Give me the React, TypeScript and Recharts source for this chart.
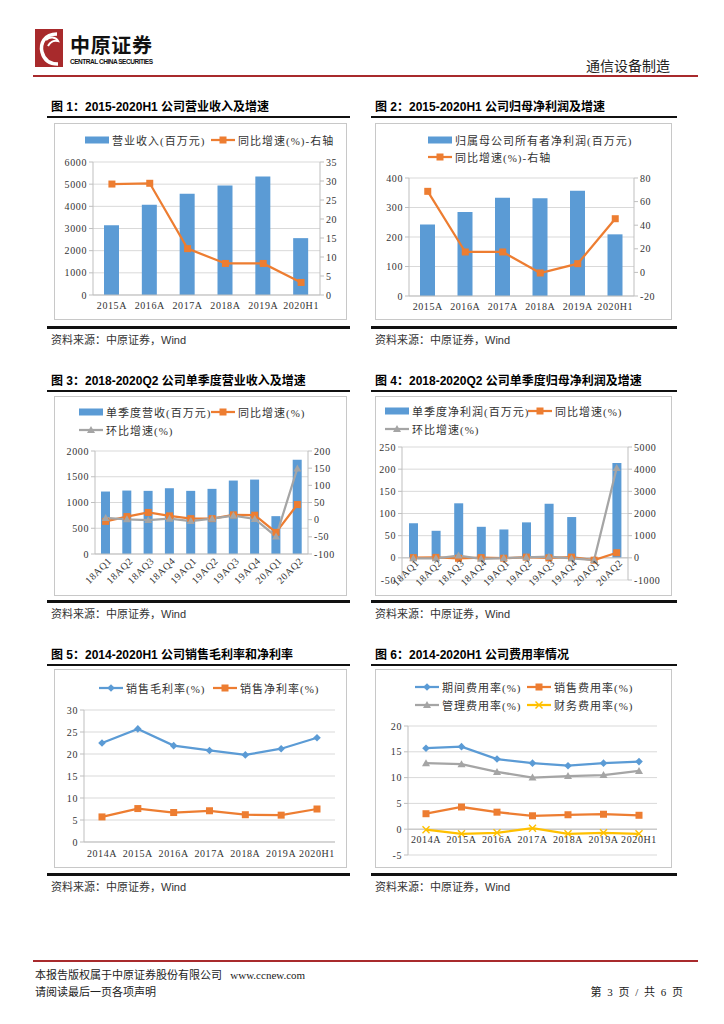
import React from "react";
import {
  ComposedChart,
  Bar,
  Line,
  XAxis,
  YAxis,
  CartesianGrid,
  ReferenceLine,
} from "recharts";

// 颜色 / 字体
const BLUE = "#5B9BD5";
const ORANGE = "#ED7D31";
const GRAY = "#A5A5A5";
const YELLOW = "#FFC000";
const GRID = "#D9D9D9";
const AXIS = "#BFBFBF";
const SERIF = '"Liberation Serif","Noto Sans CJK SC",serif';
const SANS = '"Liberation Sans","Noto Sans CJK SC",sans-serif';

// 图1 / 图2：年度
const years = ["2015A", "2016A", "2017A", "2018A", "2019A", "2020H1"];
const revenue = [3150, 4070, 4570, 4945, 5350, 2565];
const revenueYoy = [29.2, 29.4, 12.2, 8.3, 8.3, 3.3];
const netProfit = [242, 285, 333, 331, 357, 209];
const netProfitYoy = [68.7, 17.3, 17.3, -0.5, 7.4, 45.5];

// 图3 / 图4：单季度
const quarters = ["18AQ1", "18AQ2", "18AQ3", "18AQ4", "19AQ1", "19AQ2", "19AQ3", "19AQ4", "20AQ1", "20AQ2"];
const qRevenue = [1213, 1232, 1226, 1277, 1226, 1265, 1426, 1445, 735, 1832];
const qRevenueYoy = [-5, 9, 21, 11, 3, 3, 14, 13, -37, 44];
const qRevenueQoq = [5, 1, -1, 3, -4, 3, 12, 2, -49, 149];
const qProfit = [78, 61, 123, 70, 64, 80, 122, 92, -3, 214];
const qProfitYoy = [10, 20, -20, 10, -18, 31, -1, 31, -105, 230];
const qProfitQoq = [-20, -22, 100, -43, -9, 25, 53, -25, -103, 4050];

// 图5 / 图6：利润率、费用率
const years2 = ["2014A", "2015A", "2016A", "2017A", "2018A", "2019A", "2020H1"];
const grossMargin = [22.5, 25.7, 21.9, 20.8, 19.8, 21.2, 23.7];
const netMargin = [5.7, 7.6, 6.7, 7.1, 6.2, 6.1, 7.5];
const periodExp = [15.7, 16.0, 13.6, 12.8, 12.3, 12.8, 13.1];
const salesExp = [3.0, 4.3, 3.3, 2.6, 2.8, 2.9, 2.7];
const adminExp = [12.8, 12.6, 11.1, 10.0, 10.3, 10.5, 11.3];
const financeExp = [-0.1, -0.9, -0.7, 0.2, -0.9, -0.7, -0.9];

// 坐标轴刻度
const ticks1L = [0, 1000, 2000, 3000, 4000, 5000, 6000];
const ticks1R = [0, 5, 10, 15, 20, 25, 30, 35];
const ticks2L = [0, 100, 200, 300, 400];
const ticks2R = [-20, 0, 20, 40, 60, 80];
const ticks3L = [0, 500, 1000, 1500, 2000];
const ticks3R = [-100, -50, 0, 50, 100, 150, 200];
const ticks4L = [-50, 0, 50, 100, 150, 200, 250];
const ticks4R = [-1000, 0, 1000, 2000, 3000, 4000, 5000];
const ticks5 = [0, 5, 10, 15, 20, 25, 30];
const ticks6 = [-5, 0, 5, 10, 15, 20];

const tickStyle = { fontSize: 10, fill: "#333", fontFamily: SERIF, letterSpacing: 0.6 };

type Kind = "bar" | "square" | "diamond" | "triangle" | "x";

function Marker({ kind, cx, cy, color }: { kind: Kind; cx: number; cy: number; color: string }) {
  if (kind === "square") return <rect x={cx - 3.5} y={cy - 3.5} width={7} height={7} fill={color} />;
  if (kind === "diamond")
    return <polygon points={`${cx},${cy - 3.8} ${cx + 3.8},${cy} ${cx},${cy + 3.8} ${cx - 3.8},${cy}`} fill={color} />;
  if (kind === "triangle")
    return <polygon points={`${cx},${cy - 4} ${cx + 4},${cy + 3} ${cx - 4},${cy + 3}`} fill={color} />;
  if (kind === "x")
    return (
      <g stroke={color} strokeWidth={1.4}>
        <line x1={cx - 3.5} y1={cy - 3.5} x2={cx + 3.5} y2={cy + 3.5} />
        <line x1={cx - 3.5} y1={cy + 3.5} x2={cx + 3.5} y2={cy - 3.5} />
      </g>
    );
  return null;
}

const dotOf = (kind: Kind, color: string) => (p: any) =>
  p.cx == null || p.cy == null ? <g key={`e${p.index}`} /> : (
    <g key={`d${p.index}`}>
      <Marker kind={kind} cx={p.cx} cy={p.cy} color={color} />
    </g>
  );

// 横轴标签：shift 用于把标签移到零线下方
const flatTick = (shift: number) => (p: any) => (
  <text x={p.x} y={p.y - shift} dy="0.71em" textAnchor="middle" {...tickStyle}>
    {p.payload.value}
  </text>
);
const rotTick = (shift: number) => (p: any) => (
  <g transform={`translate(${p.x + 4},${p.y - shift})`}>
    <text transform="rotate(-45)" textAnchor="end" dy="0.35em" {...tickStyle}>
      {p.payload.value}
    </text>
  </g>
);

function LegendItem({ x, y, kind, color, label }: { x: number; y: number; kind: Kind; color: string; label: string }) {
  return (
    <div
      style={{
        position: "absolute",
        left: x,
        top: y - 8,
        height: 16,
        display: "flex",
        alignItems: "center",
        whiteSpace: "nowrap",
        fontFamily: SERIF,
        fontSize: 11,
        letterSpacing: 1,
        color: "#333",
      }}
    >
      <svg width={24} height={16}>
        {kind === "bar" ? (
          <rect x={0} y={4.5} width={24} height={7} fill={color} />
        ) : (
          <>
            <line x1={0} y1={8} x2={24} y2={8} stroke={color} strokeWidth={2.25} />
            <Marker kind={kind} cx={12} cy={8} color={color} />
          </>
        )}
      </svg>
      <span style={{ marginLeft: 3 }}>{label}</span>
    </div>
  );
}

function Panel({
  title,
  lineX,
  lineW,
  titleY,
  box,
  bottomY,
  children,
}: {
  title: string;
  lineX: number;
  lineW: number;
  titleY: number;
  box: [number, number, number, number];
  bottomY: number;
  children?: React.ReactNode;
}) {
  return (
    <>
      <div
        style={{
          position: "absolute",
          left: lineX + 4,
          top: titleY - 9,
          fontFamily: SANS,
          fontWeight: 700,
          fontSize: 12,
          color: "#000",
          whiteSpace: "nowrap",
        }}
      >
        {title}
      </div>
      <div style={{ position: "absolute", left: lineX, top: titleY + 10, width: lineW, height: 2, background: "#111" }} />
      <div
        style={{
          position: "absolute",
          left: box[0],
          top: box[1],
          width: box[2] - 2,
          height: box[3] - 2,
          border: "1px solid #C8C8C8",
        }}
      />
      <div style={{ position: "absolute", left: box[0], top: box[1] }}>{children}</div>
      <div style={{ position: "absolute", left: lineX, top: bottomY, width: lineW, height: 2.5, background: "#111" }} />
      <div
        style={{
          position: "absolute",
          left: lineX + 4,
          top: bottomY + 5,
          fontFamily: SANS,
          fontSize: 11,
          color: "#333",
          whiteSpace: "nowrap",
        }}
      >
        资料来源：中原证券，Wind
      </div>
    </>
  );
}

const yAxisCommon = {
  axisLine: { stroke: AXIS },
  tickLine: { stroke: AXIS },
  tickSize: 4,
  tick: tickStyle,
  interval: 0 as const,
};

function Chart1() {
  const rows = years.map((c, i) => ({ c, v: revenue[i], g: revenueYoy[i] }));
  return (
    <ComposedChart width={293} height={197} data={rows} margin={{ top: 39, right: 0, bottom: 0, left: 0 }}>
      <CartesianGrid vertical={false} stroke={GRID} />
      <XAxis dataKey="c" height={25} axisLine={{ stroke: AXIS }} tickLine={false} tick={flatTick(1)} interval={0} />
      <YAxis width={39} domain={[0, 6000]} ticks={ticks1L} {...yAxisCommon} />
      <YAxis yAxisId="r" orientation="right" width={27} domain={[0, 35]} ticks={ticks1R} {...yAxisCommon} />
      <Bar dataKey="v" fill={BLUE} barSize={15} isAnimationActive={false} />
      <Line yAxisId="r" type="linear" dataKey="g" stroke={ORANGE} strokeWidth={2.25} dot={dotOf("square", ORANGE)} isAnimationActive={false} />
    </ComposedChart>
  );
}

function Chart2() {
  const rows = years.map((c, i) => ({ c, v: netProfit[i], g: netProfitYoy[i] }));
  return (
    <ComposedChart width={297} height={197} data={rows} margin={{ top: 55, right: 0, bottom: 0, left: 0 }}>
      <CartesianGrid vertical={false} stroke={GRID} />
      <XAxis dataKey="c" height={24} axisLine={{ stroke: AXIS }} tickLine={false} tick={flatTick(1)} interval={0} />
      <YAxis width={34} domain={[0, 400]} ticks={ticks2L} {...yAxisCommon} />
      <YAxis yAxisId="r" orientation="right" width={38} domain={[-20, 80]} ticks={ticks2R} {...yAxisCommon} />
      <Bar dataKey="v" fill={BLUE} barSize={15} isAnimationActive={false} />
      <Line yAxisId="r" type="linear" dataKey="g" stroke={ORANGE} strokeWidth={2.25} dot={dotOf("square", ORANGE)} isAnimationActive={false} />
    </ComposedChart>
  );
}

function Chart3() {
  const rows = quarters.map((c, i) => ({ c, v: qRevenue[i], g: qRevenueYoy[i], q: qRevenueQoq[i] }));
  return (
    <ComposedChart width={293} height={200} data={rows} margin={{ top: 55, right: 0, bottom: 0, left: 0 }}>
      <CartesianGrid vertical={false} stroke={GRID} />
      <XAxis dataKey="c" height={42} axisLine={{ stroke: AXIS }} tickLine={false} tick={rotTick(3)} interval={0} />
      <YAxis width={41} domain={[0, 2000]} ticks={ticks3L} {...yAxisCommon} />
      <YAxis yAxisId="r" orientation="right" width={39} domain={[-100, 200]} ticks={ticks3R} {...yAxisCommon} />
      <Bar dataKey="v" fill={BLUE} barSize={9} isAnimationActive={false} />
      <Line yAxisId="r" type="linear" dataKey="g" stroke={ORANGE} strokeWidth={2.25} dot={dotOf("square", ORANGE)} isAnimationActive={false} />
      <Line yAxisId="r" type="linear" dataKey="q" stroke={GRAY} strokeWidth={2.25} dot={dotOf("triangle", GRAY)} isAnimationActive={false} />
    </ComposedChart>
  );
}

function Chart4() {
  const rows = quarters.map((c, i) => ({ c, v: qProfit[i], g: qProfitYoy[i], q: qProfitQoq[i] }));
  return (
    <ComposedChart width={297} height={200} data={rows} margin={{ top: 51, right: 0, bottom: 0, left: 0 }}>
      <CartesianGrid vertical={false} stroke={GRID} />
      <XAxis dataKey="c" height={16} axisLine={false} tickLine={false} tick={rotTick(27)} interval={0} />
      <YAxis width={27} domain={[-50, 250]} ticks={ticks4L} {...yAxisCommon} />
      <YAxis yAxisId="r" orientation="right" width={44} domain={[-1000, 5000]} ticks={ticks4R} {...yAxisCommon} />
      <ReferenceLine y={0} stroke={AXIS} />
      <Bar dataKey="v" fill={BLUE} barSize={9} isAnimationActive={false} />
      <Line yAxisId="r" type="linear" dataKey="g" stroke={ORANGE} strokeWidth={2.25} dot={dotOf("square", ORANGE)} isAnimationActive={false} />
      <Line yAxisId="r" type="linear" dataKey="q" stroke={GRAY} strokeWidth={2.25} dot={dotOf("triangle", GRAY)} isAnimationActive={false} />
    </ComposedChart>
  );
}

function Chart5() {
  const rows = years2.map((c, i) => ({ c, a: grossMargin[i], b: netMargin[i] }));
  return (
    <ComposedChart width={293} height={199} data={rows} margin={{ top: 41, right: 12, bottom: 0, left: 0 }}>
      <CartesianGrid vertical={false} stroke={GRID} />
      <XAxis
        dataKey="c"
        height={26}
        axisLine={{ stroke: AXIS }}
        tickLine={false}
        tick={flatTick(0)}
        interval={0}
        padding={{ left: 18, right: 18 }}
      />
      <YAxis width={30} domain={[0, 30]} ticks={ticks5} {...yAxisCommon} />
      <Line type="linear" dataKey="a" stroke={BLUE} strokeWidth={2.25} dot={dotOf("diamond", BLUE)} isAnimationActive={false} />
      <Line type="linear" dataKey="b" stroke={ORANGE} strokeWidth={2.25} dot={dotOf("square", ORANGE)} isAnimationActive={false} />
    </ComposedChart>
  );
}

function Chart6() {
  const rows = years2.map((c, i) => ({ c, p: periodExp[i], s: salesExp[i], m: adminExp[i], f: financeExp[i] }));
  return (
    <ComposedChart width={297} height={199} data={rows} margin={{ top: 57, right: 15, bottom: 0, left: 0 }}>
      <CartesianGrid vertical={false} stroke={GRID} />
      <XAxis
        dataKey="c"
        height={13}
        axisLine={false}
        tickLine={false}
        tick={flatTick(27)}
        interval={0}
        padding={{ left: 18, right: 18 }}
      />
      <YAxis width={33} domain={[-5, 20]} ticks={ticks6} {...yAxisCommon} />
      <ReferenceLine y={0} stroke={AXIS} />
      <Line type="linear" dataKey="p" stroke={BLUE} strokeWidth={2.25} dot={dotOf("diamond", BLUE)} isAnimationActive={false} />
      <Line type="linear" dataKey="s" stroke={ORANGE} strokeWidth={2.25} dot={dotOf("square", ORANGE)} isAnimationActive={false} />
      <Line type="linear" dataKey="m" stroke={GRAY} strokeWidth={2.25} dot={dotOf("triangle", GRAY)} isAnimationActive={false} />
      <Line type="linear" dataKey="f" stroke={YELLOW} strokeWidth={2.25} dot={dotOf("x", YELLOW)} isAnimationActive={false} />
    </ComposedChart>
  );
}

function Header() {
  return (
    <svg style={{ position: "absolute", left: 0, top: 0 }} width={724} height={80}>
      <rect x={35} y={29} width={28} height={38} fill="#A82A2C" />
      <path d="M57 34 C44 34 40 44 42 52 C44 60 50 64 58 64" stroke="#fff" strokeWidth={3.5} fill="none" />
      <path d="M46 40 C50 36 56 37 58 41 C54 40 50 42 48 46" stroke="#fff" strokeWidth={2} fill="none" />
      <text x={70} y={53} fontFamily={SANS} fontWeight={700} fontSize={20} textLength={82} fill="#111">
        中原证券
      </text>
      <text x={70} y={64} fontFamily={SANS} fontWeight={700} fontSize={6.5} textLength={83} fill="#111">
        CENTRAL CHINA SECURITIES
      </text>
      <text x={670} y={71} textAnchor="end" fontFamily={SERIF} fontSize={14} fill="#222">
        通信设备制造
      </text>
      <rect x={33} y={75} width={665} height={2} fill="#A82A2C" />
    </svg>
  );
}

function Footer() {
  const st: React.CSSProperties = {
    position: "absolute",
    fontFamily: SERIF,
    fontSize: 11,
    color: "#222",
    whiteSpace: "nowrap",
  };
  return (
    <>
      <div style={{ position: "absolute", left: 33, top: 960, width: 665, height: 2, background: "#A82A2C" }} />
      <div style={{ ...st, left: 35, top: 966 }}>本报告版权属于中原证券股份有限公司&nbsp;&nbsp;&nbsp;www.ccnew.com</div>
      <div style={{ ...st, left: 35, top: 983 }}>请阅读最后一页各项声明</div>
      <div style={{ ...st, right: 41, top: 983, wordSpacing: 3 }}>第 3 页 / 共 6 页</div>
    </>
  );
}

export default function App() {
  return (
    <div style={{ position: "absolute", left: 0, top: 0, width: 724, height: 1024, background: "#fff", overflow: "hidden" }}>
      <Header />

      <Panel title="图 1：2015-2020H1 公司营业收入及增速" lineX={47} lineW={303} titleY={106} box={[54, 123, 293, 197]} bottomY={326}>
        <Chart1 />
      </Panel>
      <LegendItem x={85} y={140} kind="bar" color={BLUE} label="营业收入(百万元)" />
      <LegendItem x={211} y={140} kind="square" color={ORANGE} label="同比增速(%)-右轴" />

      <Panel title="图 2：2015-2020H1 公司归母净利润及增速" lineX={371} lineW={306} titleY={106} box={[375, 123, 297, 197]} bottomY={326}>
        <Chart2 />
      </Panel>
      <LegendItem x={428} y={140} kind="bar" color={BLUE} label="归属母公司所有者净利润(百万元)" />
      <LegendItem x={428} y={157} kind="square" color={ORANGE} label="同比增速(%)-右轴" />

      <Panel title="图 3：2018-2020Q2 公司单季度营业收入及增速" lineX={47} lineW={303} titleY={380} box={[54, 396, 293, 200]} bottomY={600}>
        <Chart3 />
      </Panel>
      <LegendItem x={79} y={412} kind="bar" color={BLUE} label="单季度营收(百万元)" />
      <LegendItem x={211} y={412} kind="square" color={ORANGE} label="同比增速(%)" />
      <LegendItem x={79} y={430} kind="triangle" color={GRAY} label="环比增速(%)" />

      <Panel title="图 4：2018-2020Q2 公司单季度归母净利润及增速" lineX={371} lineW={306} titleY={380} box={[375, 396, 297, 200]} bottomY={600}>
        <Chart4 />
      </Panel>
      <LegendItem x={385} y={411} kind="bar" color={BLUE} label="单季度净利润(百万元)" />
      <LegendItem x={528} y={411} kind="square" color={ORANGE} label="同比增速(%)" />
      <LegendItem x={385} y={429} kind="triangle" color={GRAY} label="环比增速(%)" />

      <Panel title="图 5：2014-2020H1 公司销售毛利率和净利率" lineX={47} lineW={303} titleY={654} box={[54, 669, 293, 199]} bottomY={873}>
        <Chart5 />
      </Panel>
      <LegendItem x={99} y={688} kind="diamond" color={BLUE} label="销售毛利率(%)" />
      <LegendItem x={213} y={688} kind="square" color={ORANGE} label="销售净利率(%)" />

      <Panel title="图 6：2014-2020H1 公司费用率情况" lineX={371} lineW={306} titleY={654} box={[375, 669, 297, 199]} bottomY={873}>
        <Chart6 />
      </Panel>
      <LegendItem x={415} y={687} kind="diamond" color={BLUE} label="期间费用率(%)" />
      <LegendItem x={527} y={687} kind="square" color={ORANGE} label="销售费用率(%)" />
      <LegendItem x={415} y={705} kind="triangle" color={GRAY} label="管理费用率(%)" />
      <LegendItem x={527} y={705} kind="x" color={YELLOW} label="财务费用率(%)" />

      <Footer />
    </div>
  );
}
